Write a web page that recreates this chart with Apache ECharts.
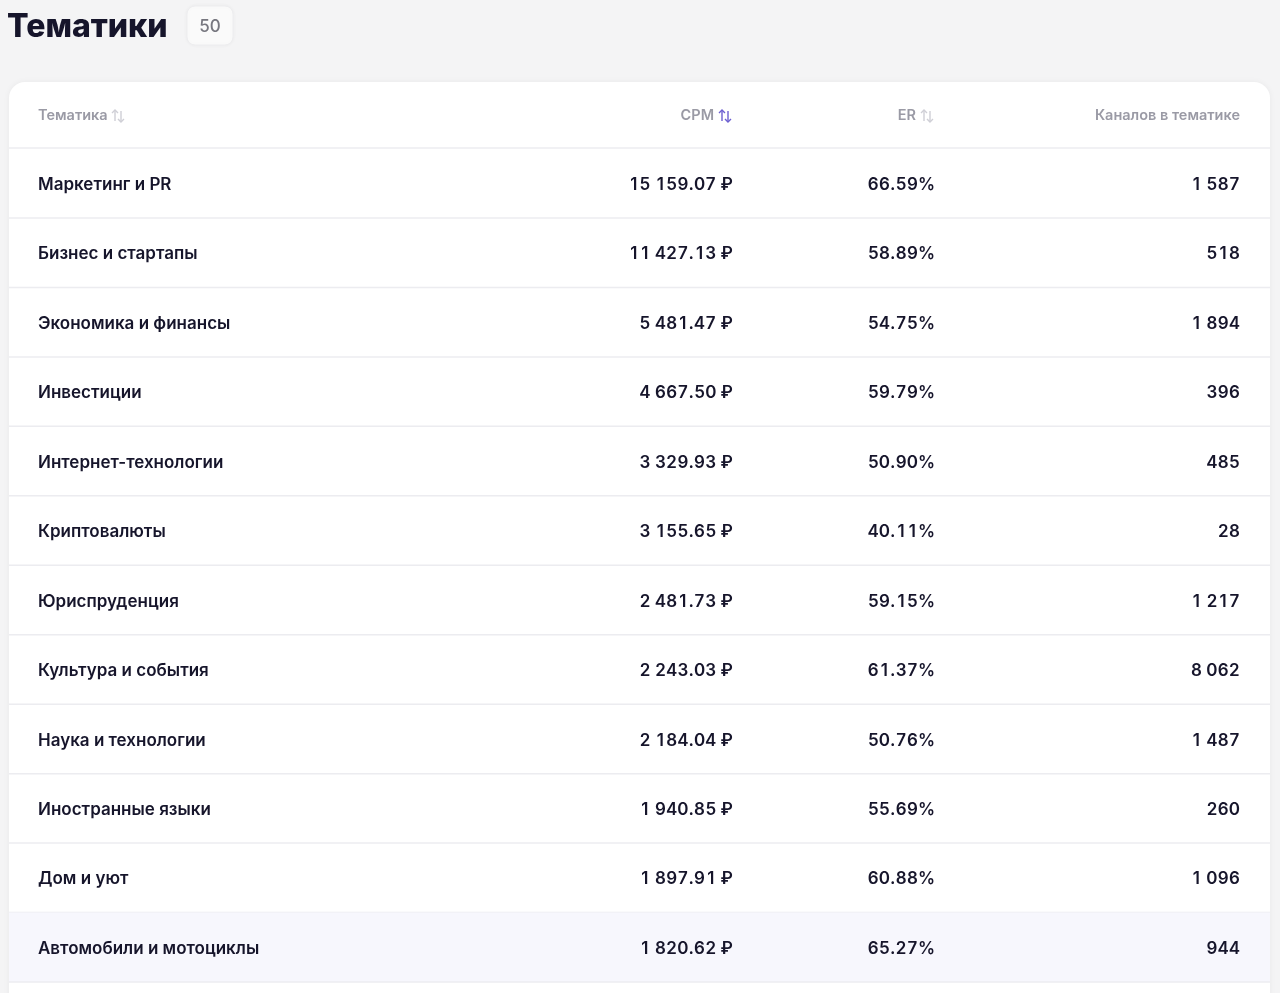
<!DOCTYPE html>
<html>
<head>
<meta charset="utf-8">
<script src="https://cdn.jsdelivr.net/npm/echarts@6/dist/echarts.min.js"></script>
<style>
html, body { margin: 0; padding: 0; background: #f4f4f5; }
#main { width: 1280px; height: 993px; }
</style>
</head>
<body>
<div id="main"></div>
<script>
// данные таблицы
var topics = ['Маркетинг и PR', 'Бизнес и стартапы', 'Экономика и финансы', 'Инвестиции',
	'Интернет-технологии', 'Криптовалюты', 'Юриспруденция', 'Культура и события',
	'Наука и технологии', 'Иностранные языки', 'Дом и уют', 'Автомобили и мотоциклы'];
var cpm = [15159.07, 11427.13, 5481.47, 4667.50, 3329.93, 3155.65, 2481.73, 2243.03, 2184.04, 1940.85, 1897.91, 1820.62];
var er = [66.59, 58.89, 54.75, 59.79, 50.90, 40.11, 59.15, 61.37, 50.76, 55.69, 60.88, 65.27];
var channels = [1587, 518, 1894, 396, 485, 28, 1217, 8062, 1487, 260, 1096, 944];
var columns = ['Тематика', 'CPM', 'ER', 'Каналов в тематике'];
var totalCount = 50;
var hoverRow = 11;

var FONT = 'Inter, "Noto Sans", sans-serif';
var DARK = '#16152b';

function spaced(n) {
	return String(n).replace(/\B(?=(\d{3})+(?!\d))/g, ' ');
}
function fmtMoney(v) {
	var p = v.toFixed(2).split('.');
	return spaced(p[0]) + '.' + p[1] + ' ₽';
}

// ширина символов (цифры моноширинные, как tnum)
var mctx = document.createElement('canvas').getContext('2d');
function charWidth(ch, font) {
	mctx.font = font;
	if (/\d/.test(ch)) return mctx.measureText('0').width;
	return mctx.measureText(ch).width;
}
// число, выровненное по правому краю, посимвольно
function tabular(str, rightX, y, ts) {
	var font = ts.fontWeight + ' ' + ts.fontSize + 'px ' + FONT;
	var out = [];
	var x = rightX;
	for (var k = str.length - 1; k >= 0; k--) {
		var ch = str[k];
		var w = charWidth(ch, font);
		if (ch !== ' ') {
			out.push({ type: 'text', x: x - w / 2, y: y, style: Object.assign({ text: ch, align: 'center' }, ts) });
		}
		x -= w;
	}
	return out;
}

// иконка сортировки: стрелка вверх слева, вниз справа
function sortIcon(x, y, color) {
	return {
		type: 'group',
		x: x,
		y: y,
		children: [
			{ type: 'polyline', shape: { points: [[2, 5], [2, -6]] }, style: { stroke: color, lineWidth: 1.4, fill: null } },
			{ type: 'polyline', shape: { points: [[-1, -3], [2, -6], [5, -3]] }, style: { stroke: color, lineWidth: 1.4, fill: null } },
			{ type: 'polyline', shape: { points: [[8, -5], [8, 6]] }, style: { stroke: color, lineWidth: 1.4, fill: null } },
			{ type: 'polyline', shape: { points: [[5, 3], [8, 6], [11, 3]] }, style: { stroke: color, lineWidth: 1.4, fill: null } }
		]
	};
}

var rowData = topics.map(function(t, i) {
	return [0, i];
});

function renderRow(params, api) {
	var i = api.value(1);
	var c = api.coord([0, i]);
	var h = api.size([0, 1])[1];
	var cs = params.coordSys;
	var top = c[1] - h / 2;
	var cy = c[1] + 1.5;
	var left = cs.x;
	var right = cs.x + cs.width;
	var children = [];
	if (i === hoverRow) {
		children.push({ type: 'rect', shape: { x: left, y: top, width: cs.width, height: h }, style: { fill: '#f7f7fd' } });
	}
	children.push({ type: 'line', shape: { x1: left, y1: top + h, x2: right, y2: top + h }, style: { stroke: '#ececf0', lineWidth: 1.5 } });
	var ts = { fontFamily: FONT, fontSize: 17, fontWeight: 600, fill: DARK, verticalAlign: 'middle' };
	children.push({ type: 'text', x: left + 29, y: cy, style: Object.assign({ text: topics[i], align: 'left' }, ts) });
	children = children.concat(tabular(fmtMoney(cpm[i]), 733, cy, ts));
	children = children.concat(tabular(er[i].toFixed(2) + '%', 935, cy, ts));
	children = children.concat(tabular(spaced(channels[i]), right - 30, cy, ts));
	return { type: 'group', children: children };
}

var chart = echarts.init(document.getElementById('main'));

var hs = { fontFamily: FONT, fontSize: 14.5, fontWeight: 600, fill: '#9a9aa5', verticalAlign: 'middle' };

var option = {
	backgroundColor: '#f4f4f5',
	animation: false,
	grid: { left: 9, right: 10, top: 148.5, bottom: 11 },
	xAxis: { type: 'value', min: 0, max: 1, show: false },
	yAxis: { type: 'category', data: topics, inverse: true, show: false },
	graphic: [
		{ type: 'text', x: 7, y: 27, style: { text: 'Тематики', fontFamily: FONT, fontSize: 32, fontWeight: 800, fill: DARK, verticalAlign: 'middle' } },
		{ type: 'rect', shape: { x: 187, y: 6, width: 46, height: 39, r: 8 }, style: { fill: '#fafafa', stroke: '#ededef', lineWidth: 1, shadowBlur: 4, shadowColor: 'rgba(0,0,0,0.04)' } },
		{ type: 'text', x: 210, y: 27, style: { text: String(totalCount), fontFamily: FONT, fontSize: 17, fontWeight: 500, fill: '#77777f', align: 'center', verticalAlign: 'middle' } },
		{ type: 'rect', z: -10, shape: { x: 9, y: 82, width: 1261, height: 1000, r: [16, 16, 0, 0] }, style: { fill: '#ffffff', shadowBlur: 6, shadowColor: 'rgba(0,0,0,0.05)' } },
		{ type: 'line', z: -5, shape: { x1: 9, y1: 148, x2: 1270, y2: 148 }, style: { stroke: '#ececf0', lineWidth: 1.5 } },
		{ type: 'text', x: 38, y: 116, style: Object.assign({ text: columns[0], align: 'left' }, hs) },
		sortIcon(113, 116, '#cfcfd6'),
		{ type: 'text', x: 714, y: 116, style: Object.assign({ text: columns[1], align: 'right' }, hs) },
		sortIcon(720, 116, '#6c5fd0'),
		{ type: 'text', x: 916, y: 116, style: Object.assign({ text: columns[2], align: 'right' }, hs) },
		sortIcon(922, 116, '#cfcfd6'),
		{ type: 'text', x: 1240, y: 116, style: Object.assign({ text: columns[3], align: 'right' }, hs) }
	],
	series: [{
		type: 'custom',
		renderItem: renderRow,
		encode: { x: 0, y: 1 },
		clip: false,
		data: rowData
	}]
};

chart.setOption(option);
</script>
</body>
</html>
